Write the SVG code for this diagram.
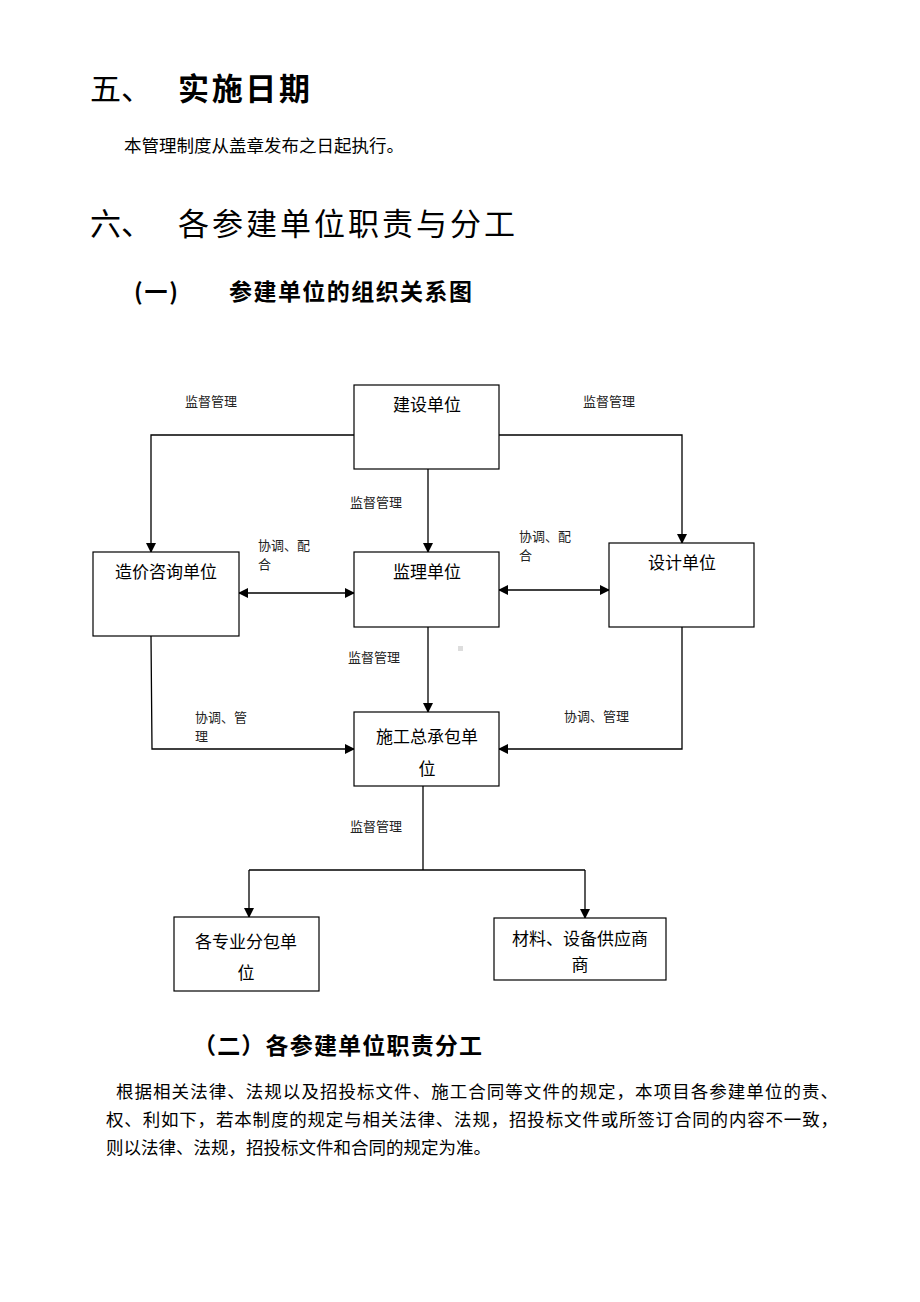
<svg xmlns="http://www.w3.org/2000/svg" width="920" height="1302" viewBox="0 0 920 1302">
<style>
text{font-family:"Noto Sans CJK SC","Noto Sans",sans-serif;fill:#000}
.h1{font-size:31px}
.h1b{font-size:31px;font-weight:bold}
.h2{font-size:23px;font-weight:bold}
.p{font-size:17.5px}
.lbl{font-size:13px;fill:#222}
.box{fill:#fff;stroke:#000;stroke-width:1.2}
.bt{font-size:17px;text-anchor:middle}
.c{fill:none;stroke:#000;stroke-width:1.3}
</style>
<defs>
<marker id="ar" markerWidth="10" markerHeight="10" refX="9" refY="5" orient="auto" markerUnits="userSpaceOnUse">
<path d="M0,0 L10,5 L0,10 Z" fill="#000"/>
</marker>
<marker id="as" markerWidth="10" markerHeight="10" refX="1" refY="5" orient="auto" markerUnits="userSpaceOnUse">
<path d="M10,0 L0,5 L10,10 Z" fill="#000"/>
</marker>
</defs>
<rect width="920" height="1302" fill="#fff"/>

<text class="h1" x="90" y="100">五、</text>
<text class="h1b" x="178" y="100" textLength="132">实施日期</text>
<text class="p" x="124" y="152">本管理制度从盖章发布之日起执行。</text>
<text class="h1" x="90" y="235">六、</text>
<text class="h1" x="178" y="235" textLength="337">各参建单位职责与分工</text>
<text class="h2" x="134" y="300" textLength="44">(一)</text>
<text class="h2" x="229" y="300" textLength="243">参建单位的组织关系图</text>

<g id="connectors">
<path class="c" d="M354,435 H151 V552" marker-end="url(#ar)"/>
<path class="c" d="M499,435 H682 V543" marker-end="url(#ar)"/>
<path class="c" d="M428,469 V552" marker-end="url(#ar)"/>
<path class="c" d="M239,593 H354" marker-start="url(#as)" marker-end="url(#ar)"/>
<path class="c" d="M499,590 H609" marker-start="url(#as)" marker-end="url(#ar)"/>
<path class="c" d="M428,627 V712" marker-end="url(#ar)"/>
<path class="c" d="M151,636 L152,749 H354" marker-end="url(#ar)"/>
<path class="c" d="M682,627 V749 H499" marker-end="url(#ar)"/>
<path class="c" d="M423,786 V870"/>
<path class="c" d="M249,870 H585"/>
<path class="c" d="M249,870 V917" marker-end="url(#ar)"/>
<path class="c" d="M585,870 V918" marker-end="url(#ar)"/>
<text class="lbl" x="185" y="406">监督管理</text>
<text class="lbl" x="583" y="406">监督管理</text>
<text class="lbl" x="350" y="507">监督管理</text>
<text class="lbl" x="348" y="662">监督管理</text>
<text class="lbl" x="350" y="831">监督管理</text>
<text class="lbl" x="258" y="550">协调、配</text>
<text class="lbl" x="258" y="569">合</text>
<text class="lbl" x="519" y="541">协调、配</text>
<text class="lbl" x="519" y="560">合</text>
<text class="lbl" x="195" y="722">协调、管</text>
<text class="lbl" x="195" y="741">理</text>
<text class="lbl" x="564" y="721">协调、管理</text>
</g>
<rect x="458" y="646" width="5" height="5" fill="#ddd"/>

<g id="n-jianshe">
<rect class="box" x="354" y="385" width="145" height="84"/>
<text class="bt" x="427" y="411">建设单位</text>
</g>
<g id="n-zaojia">
<rect class="box" x="93" y="552" width="146" height="84"/>
<text class="bt" x="166" y="578">造价咨询单位</text>
</g>
<g id="n-jianli">
<rect class="box" x="354" y="552" width="145" height="75"/>
<text class="bt" x="427" y="578">监理单位</text>
</g>
<g id="n-sheji">
<rect class="box" x="609" y="543" width="145" height="84"/>
<text class="bt" x="682" y="569">设计单位</text>
</g>
<g id="n-shigong">
<rect class="box" x="354" y="712" width="145" height="74"/>
<text class="bt" x="427" y="743">施工总承包单</text>
<text class="bt" x="427" y="775">位</text>
</g>
<g id="n-fenbao">
<rect class="box" x="174" y="917" width="145" height="74"/>
<text class="bt" x="246" y="948">各专业分包单</text>
<text class="bt" x="246" y="979">位</text>
</g>
<g id="n-gongying">
<rect class="box" x="494" y="918" width="172" height="62"/>
<text class="bt" x="580" y="945">材料、设备供应商</text>
<text class="bt" x="580" y="971">商</text>
</g>

<text class="h2" x="193" y="1054" textLength="289">（二）各参建单位职责分工</text>
<text class="p" x="116" y="1098" textLength="722">根据相关法律、法规以及招投标文件、施工合同等文件的规定，本项目各参建单位的责、</text>
<text class="p" x="106" y="1126" textLength="732">权、利如下，若本制度的规定与相关法律、法规，招投标文件或所签订合同的内容不一致，</text>
<text class="p" x="106" y="1154">则以法律、法规，招投标文件和合同的规定为准。</text>
</svg>
